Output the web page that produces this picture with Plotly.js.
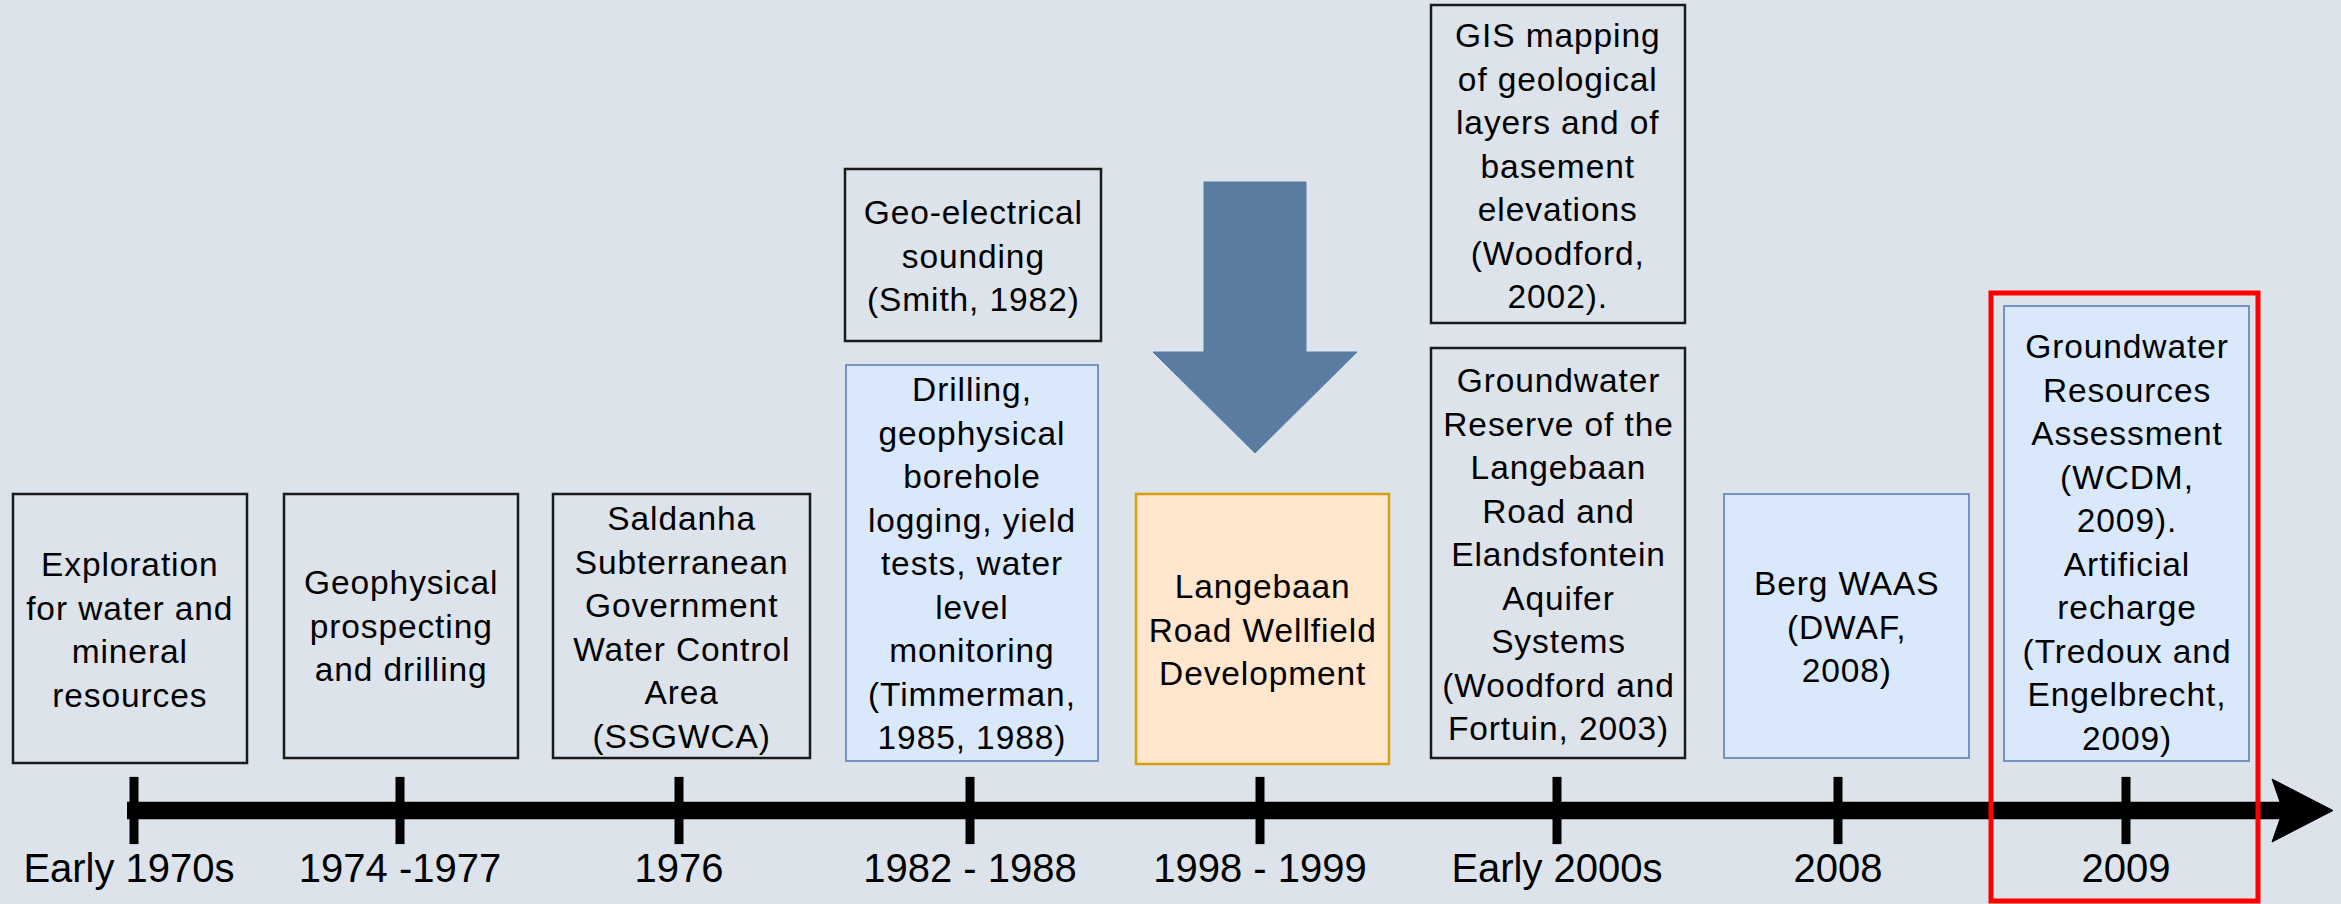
<!DOCTYPE html>
<html>
<head>
<meta charset="utf-8">
<script src="https://cdn.plot.ly/plotly-3.0.1.min.js"></script>
<style>html,body{margin:0;padding:0;background:#dde3ea;}#chart{width:2341px;height:904px;}
#chart text.annotation-text{letter-spacing:0.9px;}</style>
</head>
<body>
<div id="chart"></div>
<script>
// ---- data ----
const periods = ['Early 1970s', '1974 -1977', '1976', '1982 - 1988', '1998 - 1999', 'Early 2000s', '2008', '2009'];
const mainEvents = [
  'Exploration<br>for water and<br>mineral<br>resources',
  'Geophysical<br>prospecting<br>and drilling',
  'Saldanha<br>Subterranean<br>Government<br>Water Control<br>Area<br>(SSGWCA)',
  'Drilling,<br>geophysical<br>borehole<br>logging, yield<br>tests, water<br>level<br>monitoring<br>(Timmerman,<br>1985, 1988)',
  'Langebaan<br>Road Wellfield<br>Development',
  'Groundwater<br>Reserve of the<br>Langebaan<br>Road and<br>Elandsfontein<br>Aquifer<br>Systems<br>(Woodford and<br>Fortuin, 2003)',
  'Berg WAAS<br>(DWAF,<br>2008)',
  'Groundwater<br>Resources<br>Assessment<br>(WCDM,<br>2009).<br>Artificial<br>recharge<br>(Tredoux and<br>Engelbrecht,<br>2009)'
];
const upperEvents = [
  {period: 3, text: 'Geo-electrical<br>sounding<br>(Smith, 1982)'},
  {period: 5, text: 'GIS mapping<br>of geological<br>layers and of<br>basement<br>elevations<br>(Woodford,<br>2002).'}
];
const eventKind = ['plain', 'plain', 'plain', 'blue', 'orange', 'plain', 'blue', 'blue'];
const highlighted = 7;

// ---- layout geometry (pixel-like axis units) ----
const tickX = [134, 400, 679, 970, 1260, 1557, 1838, 2126];
const mainBox = [
  [13, 247, 494, 763], [284, 518, 494, 758], [553, 810, 494, 758], [846, 1098, 365, 761],
  [1136, 1389, 494, 764], [1431, 1685, 348, 758], [1724, 1969, 494, 758], [2004, 2249, 306, 761]
];
const mainTextY = [630, 626, 627, 563, 630, 554, 627, 542];
const upperBox = [[845, 1101, 169, 341], [1431, 1685, 5, 323]];
const upperTextY = [256, 166];
const lineY = 810.5;
const styles = {
  plain:  {fill: 'rgba(0,0,0,0)', line: '#1a1a1a', w: 2.5},
  blue:   {fill: '#dae8fc', line: '#7293c3', w: 2},
  orange: {fill: '#ffe6cc', line: '#d99e0b', w: 2.5}
};
const bg = '#dde3ea';
const font = 'Liberation Sans, Arial, Helvetica, sans-serif';

const shapes = [];
const annotations = [];
function addBox(b, st, txt, ty) {
  shapes.push({type: 'rect', xref: 'x', yref: 'y', x0: b[0], x1: b[1], y0: b[2], y1: b[3],
    fillcolor: st.fill, line: {color: st.line, width: st.w}, layer: 'below'});
  annotations.push({xref: 'x', yref: 'y', x: (b[0] + b[1]) / 2, y: ty, text: txt, showarrow: false,
    xanchor: 'center', yanchor: 'middle', align: 'center', font: {family: font, size: 33.5, color: '#000'}});
}
mainEvents.forEach((t, i) => addBox(mainBox[i], styles[eventKind[i]], t, mainTextY[i]));
upperEvents.forEach((e, i) => addBox(upperBox[i], styles.plain, e.text, upperTextY[i]));

// highlight rectangle around the last period
shapes.push({type: 'rect', xref: 'x', yref: 'y', x0: 1991, x1: 2258, y0: 293, y1: 901,
  fillcolor: 'rgba(0,0,0,0)', line: {color: '#ff0000', width: 5}});

const traces = [];
// big down arrow (above the 1998-1999 event)
const ax = tickX[4] - 5;
traces.push({type: 'scatter', mode: 'lines', fill: 'toself', fillcolor: '#5a7ca1',
  x: [ax - 51, ax + 51, ax + 51, ax + 102, ax, ax - 102, ax - 51, ax - 51],
  y: [182, 182, 352, 352, 453, 352, 352, 182],
  line: {color: '#5a7ca1', width: 1}, hoverinfo: 'skip', showlegend: false});
// timeline
traces.push({type: 'scatter', mode: 'lines', x: [tickX[0] - 7, 2285], y: [lineY, lineY],
  line: {color: '#000', width: 17.5}, hoverinfo: 'skip', showlegend: false});
traces.push({type: 'scatter', mode: 'lines', fill: 'toself', fillcolor: '#000',
  x: [2272, 2333, 2272, 2283, 2272], y: [779, lineY, 842, lineY, 779],
  line: {color: '#000', width: 1}, hoverinfo: 'skip', showlegend: false});
// ticks
traces.push({type: 'scatter', mode: 'markers', x: tickX, y: tickX.map(() => lineY),
  marker: {symbol: 'line-ns', size: 48, color: '#000', line: {color: '#000', width: 9}},
  hoverinfo: 'skip', showlegend: false});
// period labels
traces.push({type: 'scatter', mode: 'text', x: tickX.map((v, i) => v + (i === 0 ? -5 : 0)), y: tickX.map(() => 872),
  text: periods, textposition: 'middle center',
  textfont: {family: font, size: 40, color: '#000'}, hoverinfo: 'skip', showlegend: false});

const layout = {
  width: 2341, height: 904,
  margin: {l: 0, r: 0, t: 0, b: 0, pad: 0},
  paper_bgcolor: bg, plot_bgcolor: bg,
  xaxis: {range: [0, 2341], visible: false, fixedrange: true},
  yaxis: {range: [904, 0], visible: false, fixedrange: true},
  shapes: shapes, annotations: annotations, showlegend: false
};
Plotly.newPlot('chart', traces, layout, {staticPlot: true, displayModeBar: false});
</script>
</body>
</html>
